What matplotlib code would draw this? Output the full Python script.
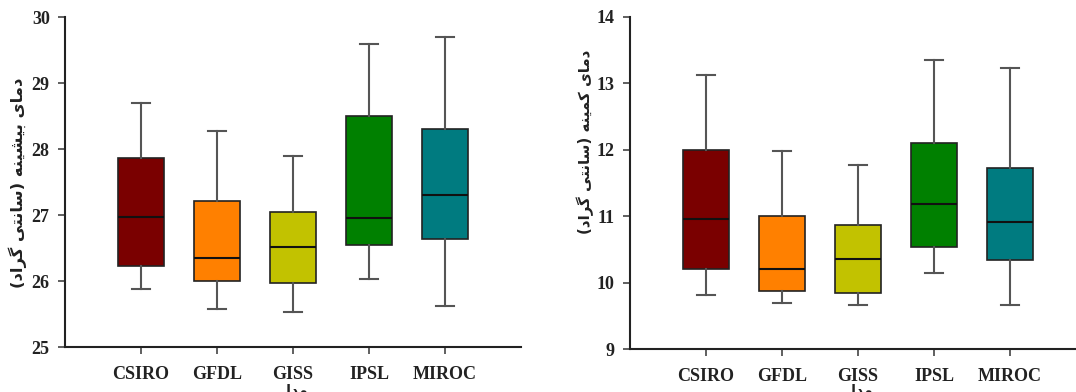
import matplotlib
matplotlib.use("Agg")
import matplotlib.pyplot as plt

models = ["CSIRO", "GFDL", "GISS", "IPSL", "MIROC"]
colors = ["#7a0000", "#ff8000", "#c2c200", "#008000", "#007b80"]

# Maximum temperature (left)
tmax_whislo = [25.88, 25.57, 25.53, 26.03, 25.62]
tmax_q1     = [26.23, 26.00, 25.97, 26.54, 26.63]
tmax_med    = [26.97, 26.35, 26.52, 26.96, 27.31]
tmax_q3     = [27.87, 27.21, 27.04, 28.50, 28.31]
tmax_whishi = [28.70, 28.27, 27.90, 29.59, 29.69]

# Minimum temperature (right)
tmin_whislo = [9.81, 9.70, 9.67, 10.15, 9.66]
tmin_q1     = [10.20, 9.87, 9.84, 10.54, 10.34]
tmin_med    = [10.96, 10.20, 10.35, 11.19, 10.91]
tmin_q3     = [11.99, 11.00, 10.87, 12.10, 11.72]
tmin_whishi = [13.12, 11.98, 11.77, 13.35, 13.23]

# Persian labels, shaped to presentation forms and put in visual order
ylabel_left = "(\uFEA9\uFE8D\uFEAE\uFB94 \uFBFD\uFE98\uFEE7\uFE8E\uFEB3) \uFEEA\uFEE8\uFBFF\uFEB8\uFBFF\uFE91 \uFBFC\uFE8E\uFEE3\uFEA9"
ylabel_right = "(\uFEA9\uFE8D\uFEAE\uFB94 \uFBFD\uFE98\uFEE7\uFE8E\uFEB3) \uFEEA\uFEE8\uFBFF\uFEE4\uFB90 \uFBFC\uFE8E\uFEE3\uFEA9"
xlabel = "\uFEDD\uFEAA\uFEE3"

W, H = 1076, 392
fig = plt.figure(figsize=(W / 100, H / 100), dpi=100)

def make_stats(lo, q1, med, q3, hi):
    return [dict(whislo=a, q1=b, med=c, q3=d, whishi=e, fliers=[])
            for a, b, c, d, e in zip(lo, q1, med, q3, hi)]

def draw(ax, stats, ylim, yticks):
    bp = ax.bxp(stats, positions=range(len(models)), widths=0.6,
                capwidths=0.24, patch_artist=True, showfliers=False,
                boxprops=dict(edgecolor="#222222", linewidth=1.2),
                medianprops=dict(color="#111111", linewidth=1.5),
                whiskerprops=dict(color="#555555", linewidth=1.5),
                capprops=dict(color="#555555", linewidth=1.5))
    for patch, c in zip(bp["boxes"], colors):
        patch.set_facecolor(c)
    ax.set_xlim(-1, 5)
    ax.set_ylim(*ylim)
    ax.set_yticks(yticks)
    ax.set_xticks(range(len(models)))
    ax.set_xticklabels(models)
    for s in ["top", "right"]:
        ax.spines[s].set_visible(False)
    for s in ["left", "bottom"]:
        ax.spines[s].set_linewidth(1.5)
        ax.spines[s].set_color("#222222")
    ax.tick_params(axis="both", direction="out", length=5, width=1.2, color="#444444")
    ax.tick_params(axis="y", pad=6)
    ax.tick_params(axis="x", pad=9)
    for lab in ax.get_xticklabels() + ax.get_yticklabels():
        lab.set_fontfamily("Liberation Serif")
        lab.set_fontweight("bold")
        lab.set_fontsize(13)
        lab.set_color("#222222")

ax1 = fig.add_axes([65 / W, 45 / H, 456 / W, 330 / H])
draw(ax1, make_stats(tmax_whislo, tmax_q1, tmax_med, tmax_q3, tmax_whishi),
     (25, 30), [25, 26, 27, 28, 29, 30])

ax2 = fig.add_axes([630 / W, 43 / H, 456 / W, 332 / H])
draw(ax2, make_stats(tmin_whislo, tmin_q1, tmin_med, tmin_q3, tmin_whishi),
     (9, 14), [9, 10, 11, 12, 13, 14])

fig.text(18 / W, 1 - 183 / H, ylabel_left, rotation=90, ha="center", va="center",
         fontsize=11.8, fontweight="bold", family=["DejaVu Sans"], color="#222222")
fig.text(585 / W, 1 - 142 / H, ylabel_right, rotation=90, ha="center", va="center",
         fontsize=10.8, fontweight="bold", family=["DejaVu Sans"], color="#222222")
fig.text(293 / W, 1 - 384 / H, xlabel, ha="center", va="top",
         fontsize=10, fontweight="bold", family=["DejaVu Sans"], color="#222222")
fig.text(858 / W, 1 - 384 / H, xlabel, ha="center", va="top",
         fontsize=10, fontweight="bold", family=["DejaVu Sans"], color="#222222")

fig.savefig("out.png", dpi=100)
